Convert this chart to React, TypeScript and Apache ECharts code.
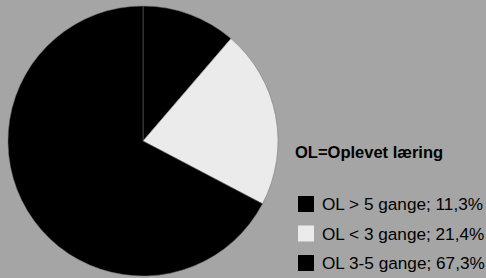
import React, { useEffect, useRef } from "react";
import * as echarts from "echarts";

const categories = ["OL > 5 gange; 11,3%", "OL < 3 gange; 21,4%", "OL 3-5 gange; 67,3%"];
const values = [11.3, 21.4, 67.3];
const colors = ["#000000", "#ebebeb", "#000000"];
const legendTitle = "OL=Oplevet læring";

export default function App() {
  const ref = useRef<HTMLDivElement>(null);
  useEffect(() => {
    document.body.style.margin = "0";
    const chart = echarts.init(ref.current!, undefined, { renderer: "svg" });
    chart.setOption({
      animation: false,
      backgroundColor: "#a5a5a5",
      title: {
        text: legendTitle,
        left: 295,
        top: 143,
        padding: 0,
        textStyle: {
          fontFamily: "Liberation Sans",
          fontWeight: "bold",
          fontSize: 16.5,
          color: "#000",
        },
      },
      legend: {
        orient: "vertical",
        left: 298,
        top: 195.5,
        padding: 0,
        itemWidth: 16,
        itemHeight: 16,
        itemGap: 12.5,
        icon: "rect",
        itemStyle: { borderWidth: 0 },
        textStyle: {
          fontFamily: "Liberation Sans",
          fontSize: 17.2,
          color: "#000",
          padding: [0, 0, 0, 3],
        },
        data: categories,
      },
      series: [
        {
          type: "pie",
          center: [143, 141],
          radius: 135,
          startAngle: 90,
          clockwise: true,
          label: { show: false },
          labelLine: { show: false },
          emphasis: { disabled: true },
          itemStyle: { borderColor: "#707070", borderWidth: 0.5 },
          data: categories.map((name, i) => ({
            name,
            value: values[i],
            itemStyle: { color: colors[i] },
          })),
        },
      ],
    });
    return () => chart.dispose();
  }, []);
  return <div ref={ref} style={{ width: 486, height: 278 }} />;
}
